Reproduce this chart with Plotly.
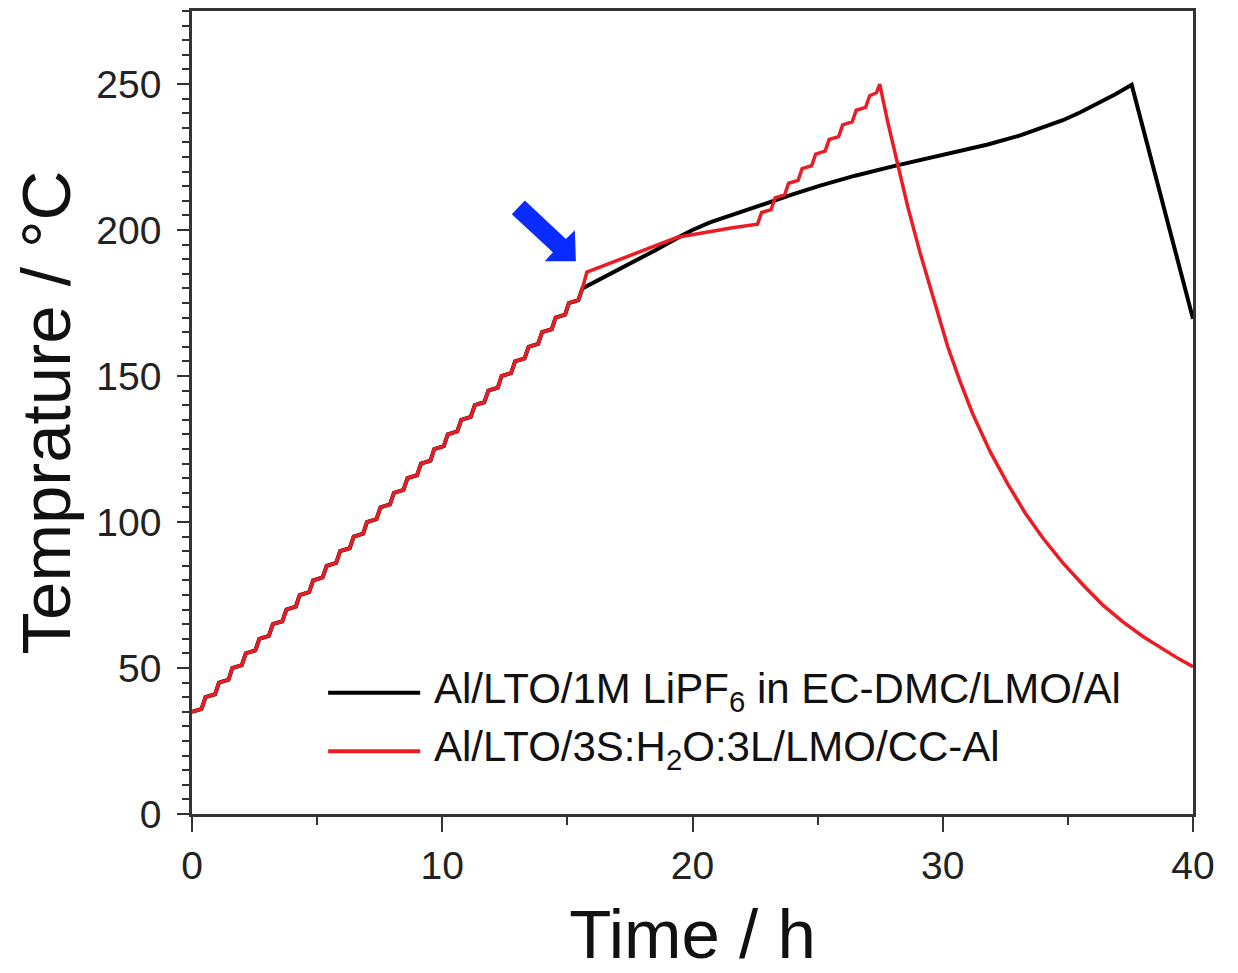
import plotly.graph_objects as go

# ---- data ----
# shared stepwise heating ramp (both cells overlap here)
ramp_time = [0.00, 0.38, 0.54, 0.92, 1.08, 1.46, 1.61, 1.99, 2.15, 2.53, 2.69, 3.07, 3.23, 3.61,
             3.77, 4.15, 4.30, 4.68, 4.84, 5.22, 5.38, 5.76, 5.92, 6.30, 6.46, 6.84, 6.99, 7.37,
             7.53, 7.91, 8.07, 8.45, 8.61, 8.99, 9.15, 9.53, 9.68, 10.06, 10.22, 10.60, 10.76,
             11.14, 11.30, 11.68, 11.84, 12.22, 12.37, 12.75, 12.91, 13.29, 13.45, 13.83, 13.99,
             14.37, 14.53, 14.91, 15.06, 15.44, 15.60]
ramp_temp = [35, 36, 40, 41, 45, 46, 50, 51, 55, 56, 60, 61, 65, 66,
             70, 71, 75, 76, 80, 81, 85, 86, 90, 91, 95, 96, 100, 101,
             105, 106, 110, 111, 115, 116, 120, 121, 125, 126, 130, 131, 135,
             136, 140, 141, 145, 146, 150, 151, 155, 156, 160, 161, 165,
             166, 170, 171, 175, 176, 180]

# organic electrolyte cell after the ramp
black_time = [16.5, 17.5, 18.5, 19.4, 20.0, 20.7, 21.7, 22.7, 24.0, 25.1, 26.5, 28.0, 29.2,
              30.4, 31.8, 33.1, 34.0, 34.8, 35.5, 36.2, 36.9, 37.55,
              37.8, 38.1, 38.4, 38.9, 39.35, 39.7, 40.0]
black_temp = [184, 188.5, 193, 197.3, 200.0, 202.6, 205.6, 208.5, 212.2, 215.2, 218.6, 221.8, 224.1,
              226.4, 229.3, 232.4, 235.0, 237.6, 240.3, 243.3, 246.5, 249.7,
              241.5, 232.5, 223, 206, 190.5, 179.5, 169.6]

# water-in-salt cell after the ramp
red_time = [15.78, 19.4, 20.5, 21.6, 22.6, 22.76, 23.14, 23.30, 23.68, 23.84, 24.22, 24.38, 24.76,
            24.92, 25.30, 25.46, 25.84, 26.00, 26.38, 26.54, 26.92, 27.08, 27.35, 27.48,
            27.8, 28.2, 28.6, 29.1, 29.6, 30.2, 30.7, 31.2, 31.9, 32.6, 33.3, 34.0, 34.8,
            35.6, 36.4, 37.2, 38.0, 38.8, 39.4, 40.0]
red_temp = [185.6, 197.5, 199.3, 200.8, 202, 206, 207, 211, 212, 216, 217, 221, 222,
            226, 227, 231, 232, 236, 237, 241, 242, 246, 247, 250,
            237, 222, 208, 192, 177, 160, 148, 137, 124, 113, 103, 94.5, 86,
            78.5, 71.5, 65.8, 60.8, 56.4, 53.3, 50.4]

series_names = ["Al/LTO/1M LiPF<sub>6</sub> in EC-DMC/LMO/Al",
                "Al/LTO/3S:H<sub>2</sub>O:3L/LMO/CC-Al"]
series_colors = ["#000000", "#ec1c24"]

x_ticks = [0, 10, 20, 30, 40]
y_ticks = [0, 50, 100, 150, 200, 250]

FONT = "Liberation Sans, Arial, sans-serif"
AX = "#333333"

fig = go.Figure()
fig.add_trace(go.Scatter(x=ramp_time + black_time, y=ramp_temp + black_temp, mode="lines",
                         name=series_names[0],
                         line=dict(color=series_colors[0], width=4, shape="linear"),
                         showlegend=False))
fig.add_trace(go.Scatter(x=ramp_time + red_time, y=ramp_temp + red_temp, mode="lines",
                         name=series_names[1],
                         line=dict(color=series_colors[1], width=3.5, shape="linear"),
                         showlegend=False))

# blue arrow marker
fig.add_shape(type="path",
              path="M 13.30 210.1 L 14.94 196.9 L 15.30 199.9 L 15.34 189.3 L 14.10 189.3 L 14.42 192.4 L 12.78 205.4 Z",
              xref="x", yref="y", fillcolor="#0a2bff", line=dict(width=0))

# manual legend (long line samples like the reference)
leg_y = [0.151, 0.078]
for i in range(2):
    fig.add_shape(type="line", xref="paper", yref="paper", x0=0.136, x1=0.228,
                  y0=leg_y[i], y1=leg_y[i], line=dict(color=series_colors[i], width=4))
    fig.add_annotation(xref="paper", yref="paper", x=0.240, y=leg_y[i] + 0.002,
                       xanchor="left", yanchor="middle", showarrow=False,
                       text=series_names[i], font=dict(family=FONT, size=42, color="#111"))

fig.update_layout(
    width=1238, height=973,
    margin=dict(l=192, r=45, t=8, b=158),
    paper_bgcolor="white", plot_bgcolor="white",
    font=dict(family=FONT, color="#222"),
)
fig.update_xaxes(range=[0, 40], tickvals=x_ticks, showgrid=False, zeroline=False,
                 showline=True, linecolor=AX, linewidth=2.5, mirror=True,
                 ticks="outside", ticklen=15, tickwidth=2, tickcolor=AX,
                 minor=dict(dtick=5, ticks="outside", ticklen=8, tickwidth=2, tickcolor=AX),
                 tickfont=dict(family=FONT, size=39, color="#222"), ticklabelstandoff=0,
                 title=dict(text="Time / h", font=dict(family=FONT, size=69, color="#111"),
                            standoff=30))
fig.update_yaxes(range=[0, 275], tickvals=y_ticks, showgrid=False, zeroline=False,
                 showline=True, linecolor=AX, linewidth=2.5, mirror=True,
                 ticks="outside", ticklen=12, tickwidth=2, tickcolor=AX,
                 minor=dict(dtick=5, ticks="outside", ticklen=7, tickwidth=2, tickcolor=AX),
                 tickfont=dict(family=FONT, size=39, color="#222"), ticklabelstandoff=8,
                 title=dict(text="Temprature / °C", font=dict(family=FONT, size=69, color="#111"),
                            standoff=4))

fig.write_html("out.html")
